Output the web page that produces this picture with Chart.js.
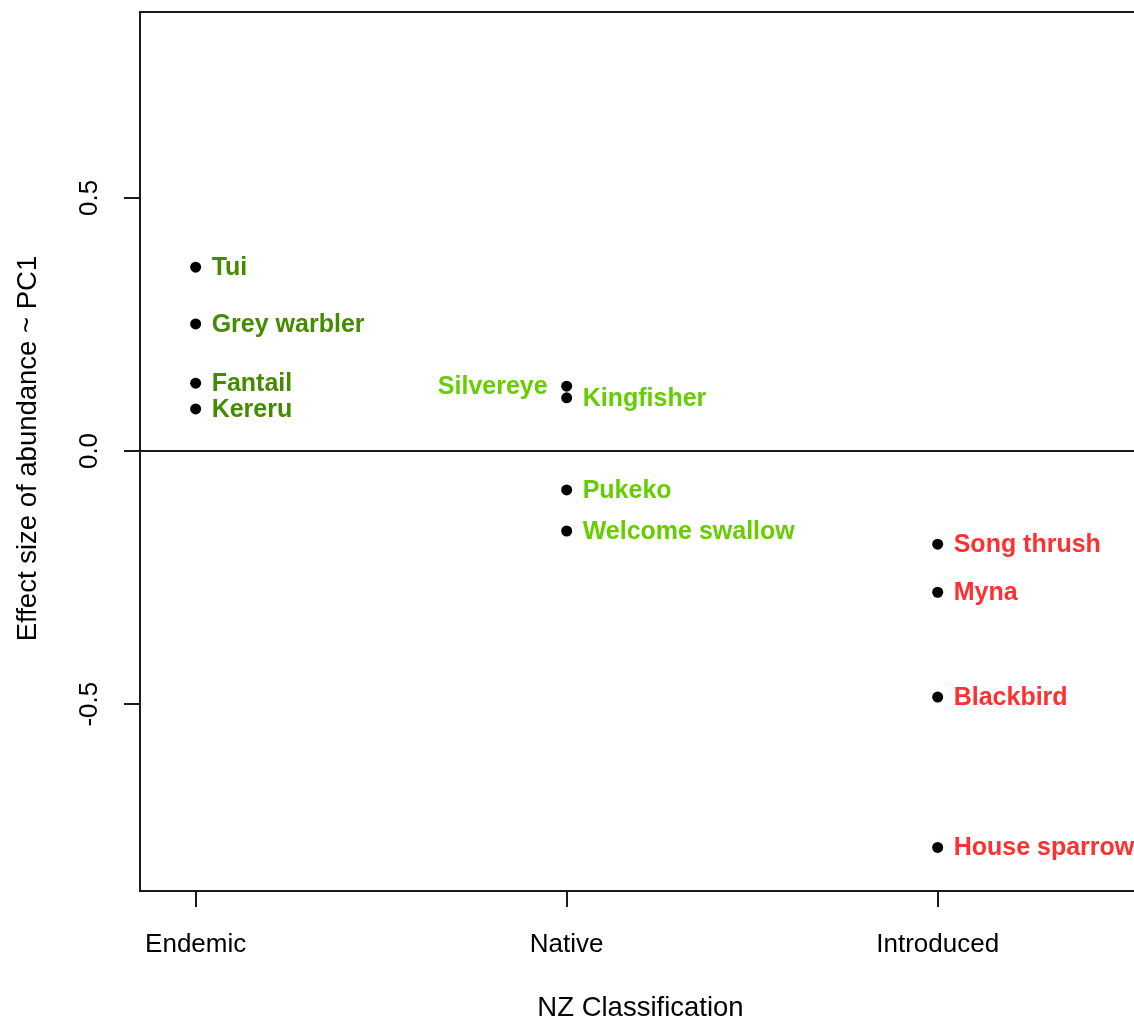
<!DOCTYPE html>
<html>
<head>
<meta charset="utf-8">
<title>Effect size of abundance ~ PC1 by NZ classification</title>
<script src="https://cdn.jsdelivr.net/npm/chart.js@4/dist/chart.umd.min.js"></script>
<style>
  html, body { margin: 0; padding: 0; background: #fff; overflow: hidden; }
  #wrap { width: 1134px; height: 1021px; overflow: hidden; }
  canvas { display: block; }
</style>
</head>
<body>
<div id="wrap"><canvas id="chart" width="1160" height="1021"></canvas></div>
<script>
// Classification groups (x positions 1, 2, 3)
const categories = ['Endemic', 'Native', 'Introduced'];
const classColors = ['#458B00', '#66CD00', '#FF3030'];

// Species, their group (index into categories) and effect size on PC1
const species = ['Tui', 'Grey warbler', 'Fantail', 'Kereru',
                 'Silvereye', 'Kingfisher', 'Pukeko', 'Welcome swallow',
                 'Song thrush', 'Myna', 'Blackbird', 'House sparrow'];
const speciesClass = [0, 0, 0, 0, 1, 1, 1, 1, 2, 2, 2, 2];
const effectSize = [0.363, 0.251, 0.134, 0.083,
                    0.128, 0.105, -0.077, -0.158,
                    -0.184, -0.279, -0.486, -0.783];

// Axis ticks
const yTicks = [-0.5, 0.0, 0.5];
const yTickLabels = ['-0.5', '0.0', '0.5'];

const TICK_FONT = '26px "Liberation Sans", Arial, sans-serif';
const TITLE_FONT = '27.5px "Liberation Sans", Arial, sans-serif';
const LABEL_FONT = 'bold 25px "Liberation Sans", Arial, sans-serif';
const INK = '#1a1a1a';

const points = species.map((s, i) => ({ x: speciesClass[i] + 1, y: effectSize[i] }));

// Labels that sit to the left of their point to avoid overlap
const leftLabelled = new Set(['Silvereye']);

const basePlot = {
  id: 'basePlot',
  beforeDatasetsDraw(chart) {
    const { ctx, chartArea: a, scales } = chart;
    const ys = scales.y;
    ctx.save();
    // plot box
    ctx.strokeStyle = INK;
    ctx.lineWidth = 2;
    ctx.strokeRect(a.left, a.top, a.right - a.left, a.bottom - a.top);
    // horizontal reference line at zero
    const y0 = ys.getPixelForValue(0);
    ctx.beginPath();
    ctx.moveTo(a.left, y0);
    ctx.lineTo(a.right, y0);
    ctx.stroke();
    ctx.restore();
  },
  afterDatasetsDraw(chart) {
    const { ctx, chartArea: a, scales } = chart;
    const xs = scales.x, ys = scales.y;
    const meta = chart.getDatasetMeta(0);
    ctx.save();

    // species labels next to each point
    ctx.font = LABEL_FONT;
    ctx.textBaseline = 'middle';
    meta.data.forEach((el, i) => {
      ctx.fillStyle = classColors[speciesClass[i]];
      if (leftLabelled.has(species[i])) {
        ctx.textAlign = 'right';
        ctx.fillText(species[i], el.x - 19, el.y + 1);
      } else {
        ctx.textAlign = 'left';
        ctx.fillText(species[i], el.x + 16, el.y + 1);
      }
    });

    // x tick labels
    ctx.fillStyle = '#000';
    ctx.font = TICK_FONT;
    ctx.textAlign = 'center';
    ctx.textBaseline = 'middle';
    xs.ticks.forEach(t => {
      ctx.fillText(categories[t.value - 1], xs.getPixelForValue(t.value), 945);
    });

    // y tick labels, rotated parallel to the axis
    ys.ticks.forEach(t => {
      const idx = yTicks.indexOf(t.value);
      ctx.save();
      ctx.translate(90, ys.getPixelForValue(t.value));
      ctx.rotate(-Math.PI / 2);
      ctx.fillText(yTickLabels[idx], 0, 0);
      ctx.restore();
    });

    // axis titles
    ctx.font = TITLE_FONT;
    ctx.fillText('NZ Classification', (a.left + a.right) / 2, 1008);
    ctx.save();
    ctx.translate(28, (a.top + a.bottom) / 2 - 3);
    ctx.rotate(-Math.PI / 2);
    ctx.fillText('Effect size of abundance ~ PC1', 0, 0);
    ctx.restore();

    ctx.restore();
  }
};

new Chart(document.getElementById('chart'), {
  type: 'scatter',
  data: {
    datasets: [{
      data: points,
      pointRadius: 5.5,
      pointHoverRadius: 5.5,
      pointBackgroundColor: '#000',
      pointBorderWidth: 0,
      showLine: false
    }]
  },
  options: {
    responsive: false,
    animation: false,
    events: [],
    layout: { padding: { top: 12, right: 19, left: 0, bottom: 0 } },
    plugins: { legend: { display: false }, tooltip: { enabled: false } },
    scales: {
      x: {
        type: 'linear',
        min: 0.85,
        max: 3.548,
        afterBuildTicks: s => { s.ticks = categories.map((c, i) => ({ value: i + 1 })); },
        afterFit: s => { s.height = 130; },
        ticks: { display: false },
        border: { display: false },
        grid: { drawOnChartArea: false, drawTicks: true, tickLength: 16, color: INK, lineWidth: 2 }
      },
      y: {
        type: 'linear',
        min: -0.869,
        max: 0.867,
        afterBuildTicks: s => { s.ticks = yTicks.map(v => ({ value: v })); },
        afterFit: s => { s.width = 140; },
        ticks: { display: false },
        border: { display: false },
        grid: { drawOnChartArea: false, drawTicks: true, tickLength: 16, color: INK, lineWidth: 2 }
      }
    }
  },
  plugins: [basePlot]
});
</script>
</body>
</html>
